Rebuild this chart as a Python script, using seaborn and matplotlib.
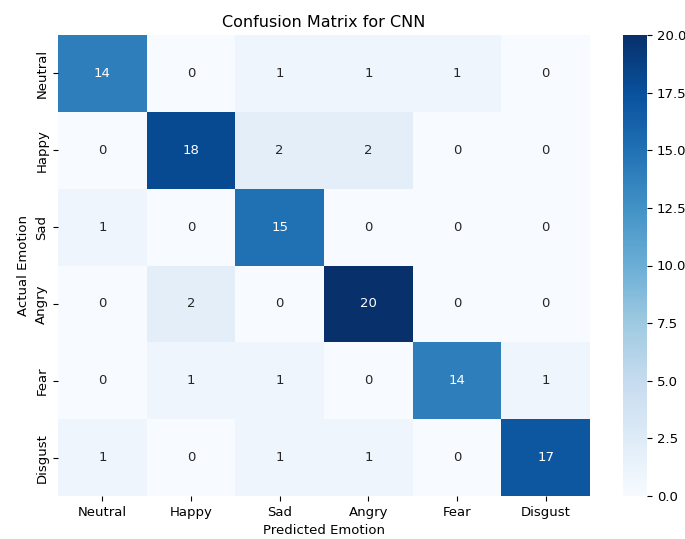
import numpy as np
import pandas as pd
import matplotlib
matplotlib.use("Agg")
import matplotlib.pyplot as plt
import seaborn as sns

emotions = ["Neutral", "Happy", "Sad", "Angry", "Fear", "Disgust"]

row_neutral = [14, 0, 1, 1, 1, 0]
row_happy = [0, 18, 2, 2, 0, 0]
row_sad = [1, 0, 15, 0, 0, 0]
row_angry = [0, 2, 0, 20, 0, 0]
row_fear = [0, 1, 1, 0, 14, 1]
row_disgust = [1, 0, 1, 1, 0, 17]

cm = pd.DataFrame(
    [row_neutral, row_happy, row_sad, row_angry, row_fear, row_disgust],
    index=emotions, columns=emotions,
)

W, H = 685, 539
fig = plt.figure(figsize=(W / 100, H / 100), dpi=100)
ax = fig.add_axes([58 / W, 1 - 496 / H, (590 - 58) / W, (496 - 35) / H])
cax = fig.add_axes([623 / W, 1 - 496 / H, 24 / W, (496 - 35) / H])

sns.heatmap(cm, annot=True, fmt="d", cmap="Blues", ax=ax, cbar_ax=cax,
            annot_kws={"fontsize": 9.5})
ax.set_title("Confusion Matrix for CNN", fontsize=11.5)
ax.set_xlabel("Predicted Emotion", fontsize=9.5)
ax.set_ylabel("Actual Emotion", fontsize=9.5)
ax.tick_params(labelsize=9.5)
cax.tick_params(labelsize=9.5)
fig.savefig("out.png", dpi=100)
